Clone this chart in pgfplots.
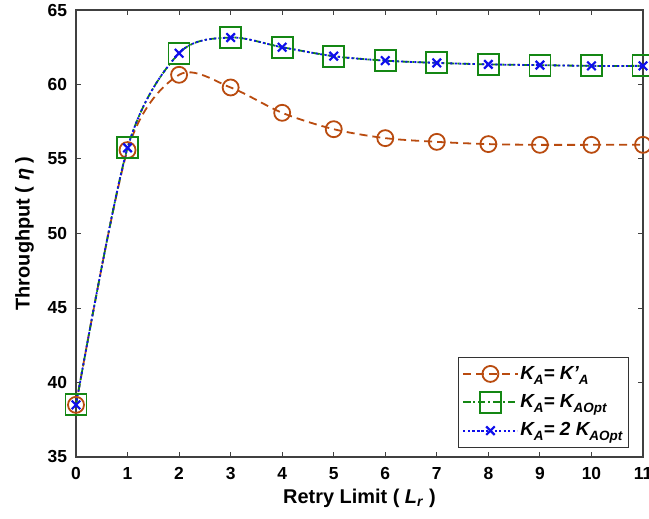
\documentclass[border=0pt]{standalone}
\usepackage{fontspec}
\setmainfont{Liberation Sans}
\usepackage{pgfplots}
\pgfplotsset{compat=1.18}

\definecolor{corange}{RGB}{185,75,15}
\definecolor{cgreen}{RGB}{20,135,20}
\definecolor{cblue}{RGB}{15,15,235}

\newcommand\sbs[1]{\textsubscript{\textit{#1}}}
\newcommand\lsb[1]{\raisebox{-0.5ex}{\fontsize{13.5}{14}\selectfont\bfseries\itshape #1}}

\begin{document}
\fontsize{17.5}{21}\selectfont\bfseries
\begin{tikzpicture}
\begin{axis}[
 scale only axis, width=567bp, height=447bp,
 xmin=0,xmax=11,ymin=35,ymax=65,
 xtick={0,...,11}, ytick={35,40,...,65},
 tick align=inside, major tick length=5bp,
 axis line style={line width=1.1bp, black!75},
 every tick/.style={line width=1bp, black!75},
 ticklabel style={font=\fontsize{17.5}{21}\selectfont\bfseries},
 yticklabel style={xshift=-3bp},
 xticklabel style={yshift=-4bp},
 /pgf/number format/assume math mode=true,
 xlabel={Retry Limit ( \textit{L}\sbs{r} )},
 ylabel={Throughput ( \textit{η} )},
 label style={font=\fontsize{20}{24}\selectfont\bfseries},
 xlabel style={yshift=2bp},
 ylabel style={yshift=2bp},
 legend style={at={(0.975,0.02)}, anchor=south east, draw=black!80, line width=1bp,
   font=\fontsize{19}{22}\selectfont\bfseries\itshape, row sep=8bp, inner xsep=4bp, inner ysep=7bp},
 legend cell align=left,
 legend image code/.code={\draw[mark repeat=2,mark phase=2] plot coordinates {(0bp,0bp)(27bp,0bp)(54bp,0bp)};},
]
\addplot[color=corange, line width=1.8bp, dash pattern=on 8bp off 5bp, smooth, tension=0.5,
  mark=o, mark size=8bp, mark options={solid, line width=1.8bp}]
 coordinates {(0,38.5)(1,55.6)(2,60.65)(3,59.8)(4,58.1)(5,57.0)(6,56.4)(7,56.15)(8,56.0)(9,55.95)(10,55.95)(11,55.95)};
\addlegendentry{K\lsb{A}= K\textit{'}\lsb{A}}
\addplot[color=cgreen, line width=1.8bp, dash pattern=on 7bp off 3bp on 2bp off 3bp, smooth, tension=0.5,
  mark=square, mark size=10.5bp, mark options={solid, line width=1.8bp}]
 coordinates {(0,38.5)(1,55.75)(2,62.1)(3,63.15)(4,62.5)(5,61.9)(6,61.6)(7,61.45)(8,61.35)(9,61.3)(10,61.25)(11,61.25)};
\addlegendentry{K\lsb{A}= K\lsb{AOpt}}
\addplot[color=cblue, line width=1.8bp, dash pattern=on 2bp off 2.5bp, smooth, tension=0.5,
  mark=x, mark size=6bp, mark options={solid, line width=2.2bp}]
 coordinates {(0,38.5)(1,55.75)(2,62.1)(3,63.15)(4,62.5)(5,61.9)(6,61.6)(7,61.45)(8,61.35)(9,61.3)(10,61.25)(11,61.25)};
\addlegendentry{K\lsb{A}= 2 K\lsb{AOpt}}
\coordinate (bl) at (rel axis cs:0,0);
\coordinate (tr) at (rel axis cs:1,1);
\end{axis}
\pgfresetboundingbox
\path[use as bounding box] ([shift={(-76bp,-62bp)}]bl) rectangle ([shift={(6bp,10bp)}]tr);
\end{tikzpicture}
\end{document}
